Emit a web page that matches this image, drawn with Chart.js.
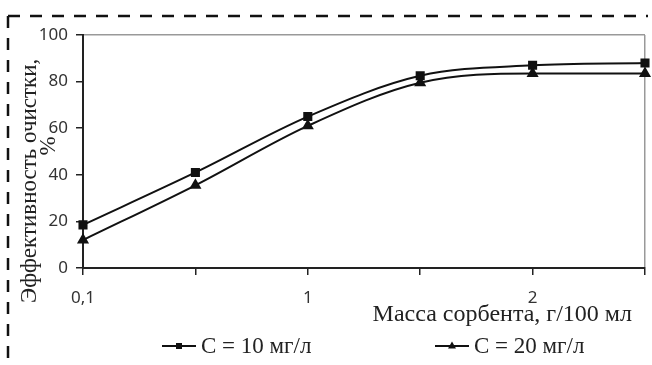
<!DOCTYPE html>
<html lang="ru">
<head>
<meta charset="utf-8">
<script src="https://cdn.jsdelivr.net/npm/chart.js@4"></script>
<style>
    html, body { margin: 0; padding: 0; background: #fff; }
    #wrap { width: 652px; height: 365px; }
</style>
</head>
<body>
<div id="wrap"><canvas id="sorbChart" width="652" height="365"></canvas></div>
<script>
// Данные графика
const categories = ['0,1', '', '1', '', '2', ''];
const seriesNames = ['C = 10 мг/л', 'C = 20 мг/л'];
const c10 = [18.5, 41, 65, 82.5, 87, 88];
const c20 = [12, 35.5, 61, 79.5, 83.5, 83.5];
const yTicks = [0, 20, 40, 60, 80, 100];

const xTitle = 'Масса сорбента, г/100 мл';
const yTitle = ['Эффективность очистки,', '%'];

const serif = '"Liberation Serif", "Times New Roman", serif';

// Пунктирная рамка вокруг рисунка
const frame = {
    id: 'frame',
    beforeDraw(chart) {
        const ctx = chart.ctx;
        ctx.save();
        ctx.strokeStyle = '#111';
        ctx.lineWidth = 2.5;
        ctx.setLineDash([12, 10]);
        ctx.beginPath();
        ctx.moveTo(8, 16);
        ctx.lineTo(648, 16);
        ctx.moveTo(8, 16);
        ctx.lineTo(8, 365);
        ctx.stroke();
        ctx.restore();
    }
};

// Подписи осей и легенда
const extras = {
    id: 'extras',
    afterDraw(chart) {
        const ctx = chart.ctx;
        ctx.save();
        ctx.fillStyle = '#222';

        // подпись оси X
        ctx.font = '24px ' + serif;
        ctx.textAlign = 'right';
        ctx.textBaseline = 'alphabetic';
        ctx.fillText(xTitle, 632, 321);

        // подпись оси Y (повернутая)
        ctx.save();
        ctx.translate(36, 303);
        ctx.rotate(-Math.PI / 2);
        ctx.textAlign = 'left';
        ctx.font = '23px ' + serif;
        ctx.fillText(yTitle[0], 0, 0);
        ctx.restore();
        ctx.save();
        ctx.translate(55, 146);
        ctx.rotate(-Math.PI / 2);
        ctx.textAlign = 'center';
        ctx.font = '23px ' + serif;
        ctx.fillText(yTitle[1], 0, 0);
        ctx.restore();

        // легенда
        const starts = [162, 435];
        chart.data.datasets.forEach((ds, i) => {
            const x0 = starts[i];
            const y0 = 346;
            ctx.strokeStyle = '#111';
            ctx.lineWidth = 2;
            ctx.beginPath();
            ctx.moveTo(x0, y0);
            ctx.lineTo(x0 + 34, y0);
            ctx.stroke();
            ctx.fillStyle = '#111';
            const cx = x0 + 17;
            if (ds.pointStyle === 'rect') {
                ctx.fillRect(cx - 3, y0 - 3, 6, 6);
            } else {
                ctx.beginPath();
                ctx.moveTo(cx, y0 - 4.5);
                ctx.lineTo(cx + 4, y0 + 2.5);
                ctx.lineTo(cx - 4, y0 + 2.5);
                ctx.closePath();
                ctx.fill();
            }
            ctx.fillStyle = '#222';
            ctx.font = '23px ' + serif;
            ctx.textAlign = 'left';
            ctx.fillText(ds.label, x0 + 39, 353);
        });
        ctx.restore();
    }
};

const ctx = document.getElementById('sorbChart').getContext('2d');
new Chart(ctx, {
    type: 'line',
    data: {
        labels: categories,
        datasets: [{
            label: seriesNames[0],
            data: c10,
            borderColor: '#111',
            backgroundColor: '#111',
            borderWidth: 2,
            pointStyle: 'rect',
            pointRadius: 5,
            cubicInterpolationMode: 'monotone'
        }, {
            label: seriesNames[1],
            data: c20,
            borderColor: '#111',
            backgroundColor: '#111',
            borderWidth: 2,
            pointStyle: 'triangle',
            pointRadius: 5,
            cubicInterpolationMode: 'monotone'
        }]
    },
    options: {
        responsive: false,
        animation: false,
        layout: { padding: { left: 0, top: 35, right: 6, bottom: 0 } },
        plugins: {
            legend: { display: false },
            tooltip: { enabled: false }
        },
        scales: {
            x: {
                offset: false,
                afterFit: (scale) => {
                    scale.height = 97;
                    scale.paddingRight = 0; // последняя подпись пустая
                },
                grid: {
                    color: (c) => c.index === categories.length - 1 ? '#999' : 'transparent',
                    tickColor: '#222',
                    tickLength: 7,
                    lineWidth: 1.5
                },
                border: { color: '#222', width: 2 },
                ticks: {
                    autoSkip: false,
                    maxRotation: 0,
                    padding: 13,
                    color: '#333',
                    font: { family: '"Noto Sans", sans-serif', size: 17 }
                }
            },
            y: {
                min: 0,
                max: 100,
                afterFit: (scale) => { scale.width = 83; },
                afterBuildTicks: (scale) => { scale.ticks = yTicks.map(v => ({ value: v })); },
                grid: {
                    color: (c) => c.tick && c.tick.value === 100 ? '#999' : 'transparent',
                    tickColor: '#222',
                    tickLength: 7,
                    lineWidth: 1.5
                },
                border: { color: '#222', width: 2 },
                ticks: {
                    padding: 8,
                    color: '#333',
                    font: { family: '"Noto Sans", sans-serif', size: 17 }
                }
            }
        }
    },
    plugins: [frame, extras]
});
</script>
</body>
</html>
